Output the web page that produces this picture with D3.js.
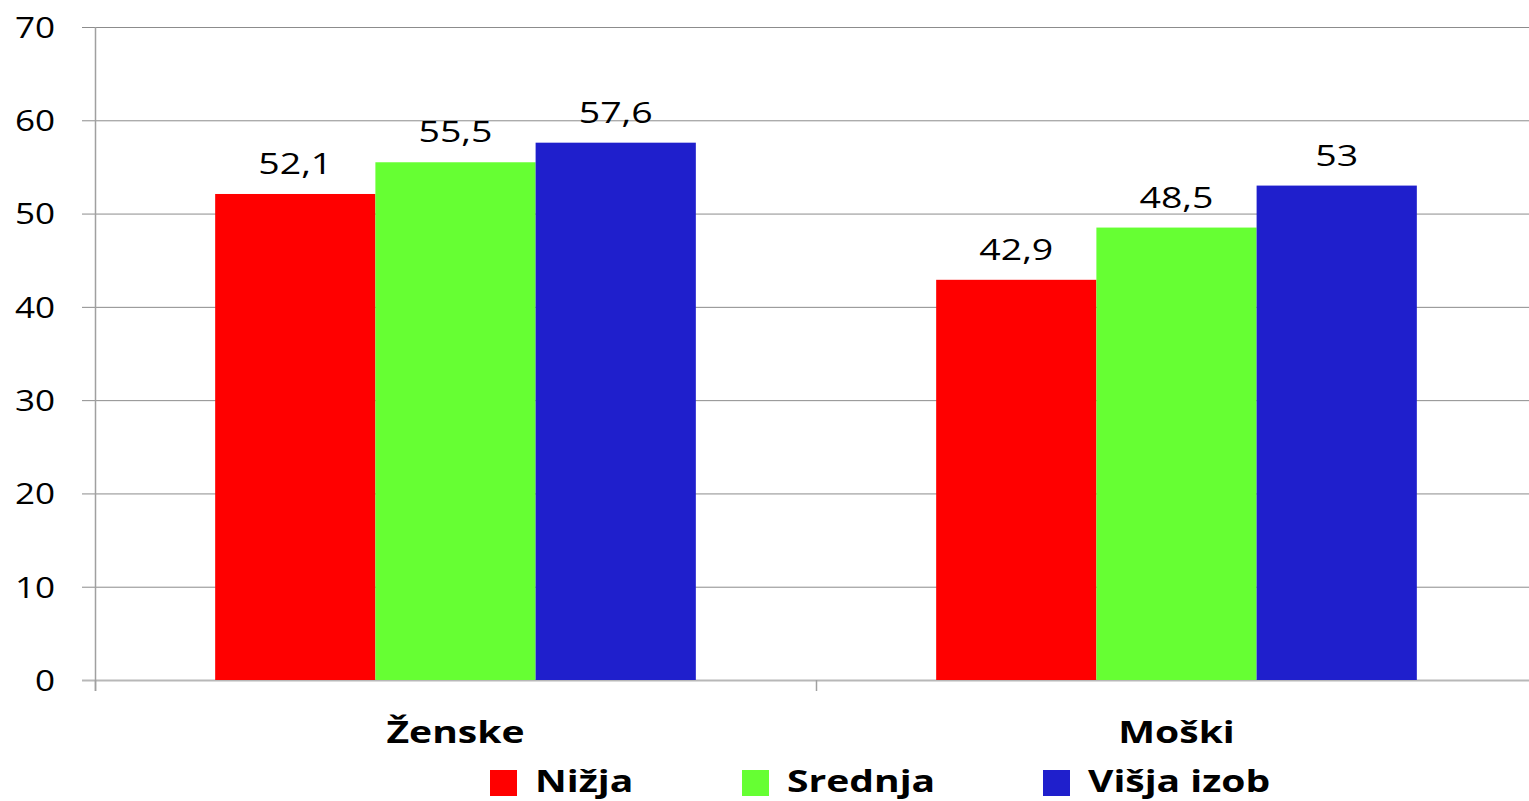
<!DOCTYPE html>
<html>
<head>
<meta charset="utf-8">
<script src="https://cdn.jsdelivr.net/npm/d3@7"></script>
<style>
  body { margin: 0; background: #fff; }
  svg text { font-family: "Open Sans", "DejaVu Sans", sans-serif; fill: #000; }
</style>
</head>
<body>
<svg id="chart"></svg>
<script>
var categories = ['Ženske', 'Moški'];
var series = ['Nižja', 'Srednja', 'Višja izob'];
var nizja = [52.1, 42.9];
var srednja = [55.5, 48.5];
var visja = [57.6, 53];
var yTicks = [0, 10, 20, 30, 40, 50, 60, 70];
var colors = ['#ff0000', '#66ff33', '#1f1fcc'];

var width = 1529, height = 801;
var svg = d3.select('#chart')
  .attr('width', width)
  .attr('height', height);

var x0 = d3.scaleBand()
  .domain(categories)
  .range([95, 1537])
  .padding(0);

var x1 = d3.scaleBand()
  .domain(series)
  .range([0, x0.bandwidth()])
  .paddingInner(0)
  .paddingOuter(0.75);

var y = d3.scaleLinear()
  .domain([0, 70])
  .range([680, 27]);

// text in the original is a little stretched sideways
stretch = function(fx, fy, sx) {
  return function(d, i) {
    return 'translate(' + fx(d, i) + ',' + fy(d, i) + ') scale(' + sx + ',1)';
  };
};

// grid lines
svg.selectAll('line.grid')
  .data(yTicks)
  .enter()
  .append('line')
  .attr('x1', 82)
  .attr('x2', 1537)
  .attr('y1', function(d) { return y(d) + 0.5; })
  .attr('y2', function(d) { return y(d) + 0.5; })
  .attr('stroke', function(d) { return d == 0 ? '#b8b8b8' : '#8c8c8c'; })
  .attr('stroke-width', function(d) { return d == 0 ? 2 : 1; });

// y axis line
svg.append('line')
  .attr('x1', 95.5).attr('x2', 95.5)
  .attr('y1', y(70)).attr('y2', 691)
  .attr('stroke', '#a0a0a0')
  .attr('stroke-width', 1.5);

// category ticks
svg.selectAll('line.ctick')
  .data(categories)
  .enter()
  .append('line')
  .attr('x1', function(d) { return x0(d) + 0.5; })
  .attr('x2', function(d) { return x0(d) + 0.5; })
  .attr('y1', 680)
  .attr('y2', 691)
  .attr('stroke', '#a0a0a0')
  .attr('stroke-width', 1.5);

// y tick labels
svg.selectAll('text.ytick')
  .data(yTicks)
  .enter()
  .append('text')
  .attr('transform', stretch(function() { return 55; }, function(d) { return y(d); }, 1.17))
  .attr('dy', '0.36em')
  .attr('text-anchor', 'end')
  .style('font-size', '30px')
  .text(function(d) { return d; });

var dataset = [];
categories.forEach(function(c, i) {
  dataset.push({cat: c, s: series[0], v: nizja[i], col: colors[0]});
  dataset.push({cat: c, s: series[1], v: srednja[i], col: colors[1]});
  dataset.push({cat: c, s: series[2], v: visja[i], col: colors[2]});
});

svg.selectAll('rect.bar')
  .data(dataset)
  .enter()
  .append('rect')
  .attr('x', function(d) { return x0(d.cat) + x1(d.s); })
  .attr('y', function(d) { return y(d.v); })
  .attr('width', x1.bandwidth())
  .attr('height', function(d) { return y(0) - y(d.v); })
  .attr('fill', function(d) { return d.col; });

svg.selectAll('text.val')
  .data(dataset)
  .enter()
  .append('text')
  .attr('transform', stretch(
    function(d) { return x0(d.cat) + x1(d.s) + x1.bandwidth() / 2; },
    function(d) { return y(d.v) - 20; }, 1.25))
  .attr('text-anchor', 'middle')
  .style('font-size', '30px')
  .text(function(d) { return String(d.v).replace('.', ','); });

// category labels
svg.selectAll('text.cat')
  .data(categories)
  .enter()
  .append('text')
  .attr('transform', stretch(
    function(d) { return x0(d) + x0.bandwidth() / 2; },
    function() { return 743; }, 1.26))
  .attr('text-anchor', 'middle')
  .style('font-size', '31px')
  .style('font-weight', 'bold')
  .text(function(d) { return d; });

// legend
var legendX = [490, 742, 1043];
var legend = svg.selectAll('g.legend')
  .data(series)
  .enter()
  .append('g')
  .attr('transform', function(d, i) { return 'translate(' + legendX[i] + ',0)'; });

legend.append('rect')
  .attr('x', 0)
  .attr('y', 770)
  .attr('width', 27)
  .attr('height', 26)
  .attr('fill', function(d, i) { return colors[i]; });

legend.append('text')
  .attr('transform', 'translate(45,792) scale(1.26,1)')
  .style('font-size', '31px')
  .style('font-weight', 'bold')
  .text(function(d) { return d; });
</script>
</body>
</html>
